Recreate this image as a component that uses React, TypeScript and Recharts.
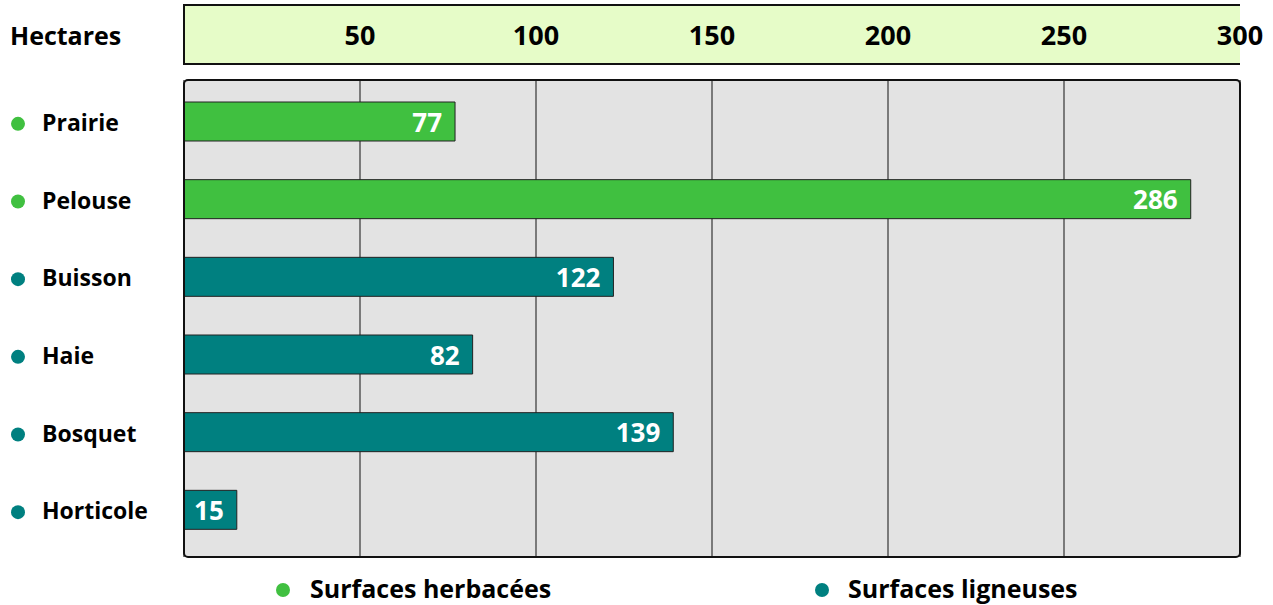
import { BarChart, Bar, XAxis, YAxis, CartesianGrid, LabelList, Cell } from 'recharts'

const categories = ['Prairie', 'Pelouse', 'Buisson', 'Haie', 'Bosquet', 'Horticole']
const hectares = [77, 286, 122, 82, 139, 15]
const groupOf = [0, 0, 1, 1, 1, 1]
const groupNames = ['Surfaces herbacées', 'Surfaces ligneuses']
const groupColors = ['#40c040', '#008080']
const xTicks = [50, 100, 150, 200, 250, 300]

const data = categories.map((name, i) => ({ name, value: hectares[i], group: groupOf[i] }))

const FONT = '"Open Sans", "Noto Sans", sans-serif'

function CategoryTick({ x, y, payload }: any) {
  const idx = categories.indexOf(payload.value)
  const color = groupColors[groupOf[idx]]
  // label text starts at 42px from the chart's left edge
  const left = x - 134
  return (
    <g>
      <circle cx={left - 24} cy={y + 2} r={7} fill={color} />
      <text x={left} y={y + 9} fontFamily={FONT} fontWeight={700} fontSize={23} fill="#000">
        {payload.value}
      </text>
    </g>
  )
}

function ValueTick({ x, payload }: any) {
  return (
    <text x={x} y={45} textAnchor="middle" fontFamily={FONT} fontWeight={700} fontSize={27} fill="#000">
      {payload.value}
    </text>
  )
}

function BarValue({ x, y, width, height, value }: any) {
  return (
    <text
      x={x + width - 13}
      y={y + height / 2 + 10}
      textAnchor="end"
      fontFamily={FONT}
      fontWeight={700}
      fontSize={26}
      fill="#fff"
    >
      {value}
    </text>
  )
}

export default function App() {
  return (
    <div style={{ position: 'absolute', left: 0, top: 0, width: 1273, height: 605, background: '#fff' }}>
      <div
        style={{
          position: 'absolute',
          left: 183,
          top: 4,
          width: 1057,
          height: 61,
          boxSizing: 'border-box',
          background: '#e6fcc8',
          borderTop: '2px solid #111',
          borderBottom: '2px solid #111',
          borderLeft: '2px solid #111',
        }}
      />
      <div style={{ position: 'absolute', left: 0, top: 0 }}>
        <BarChart
          width={1273}
          height={605}
          data={data}
          layout="vertical"
          margin={{ top: 16, right: 33, bottom: 48, left: 0 }}
        >
          <CartesianGrid horizontal={false} fill="#e3e3e3" stroke="#7a7a7a" strokeWidth={2} />
          <XAxis
            type="number"
            orientation="top"
            domain={[0, 300]}
            ticks={xTicks}
            height={64}
            axisLine={false}
            tickLine={false}
            tick={<ValueTick />}
          />
          <YAxis
            type="category"
            dataKey="name"
            width={184}
            padding={{ top: 3, bottom: 8 }}
            axisLine={false}
            tickLine={false}
            tick={<CategoryTick />}
          />
          <Bar dataKey="value" barSize={39} stroke="#222" strokeWidth={1} isAnimationActive={false}>
            {data.map((d) => (
              <Cell key={d.name} fill={groupColors[d.group]} />
            ))}
            <LabelList dataKey="value" content={<BarValue />} />
          </Bar>
        </BarChart>
      </div>
      <div
        style={{
          position: 'absolute',
          left: 183,
          top: 79,
          width: 1058,
          height: 479,
          boxSizing: 'border-box',
          border: '2px solid #111',
          borderRadius: 5,
          pointerEvents: 'none',
        }}
      />
      <svg width={1273} height={605} style={{ position: 'absolute', left: 0, top: 0, pointerEvents: 'none' }}>
        <text x={10} y={45} fontFamily={FONT} fontWeight={700} fontSize={25} fill="#000">
          Hectares
        </text>
        {groupNames.map((g, i) => (
          <g key={g}>
            <circle cx={i === 0 ? 283 : 822} cy={590} r={7} fill={groupColors[i]} />
            <text x={i === 0 ? 310 : 848} y={598} fontFamily={FONT} fontWeight={700} fontSize={25} fill="#000">
              {g}
            </text>
          </g>
        ))}
      </svg>
    </div>
  )
}
